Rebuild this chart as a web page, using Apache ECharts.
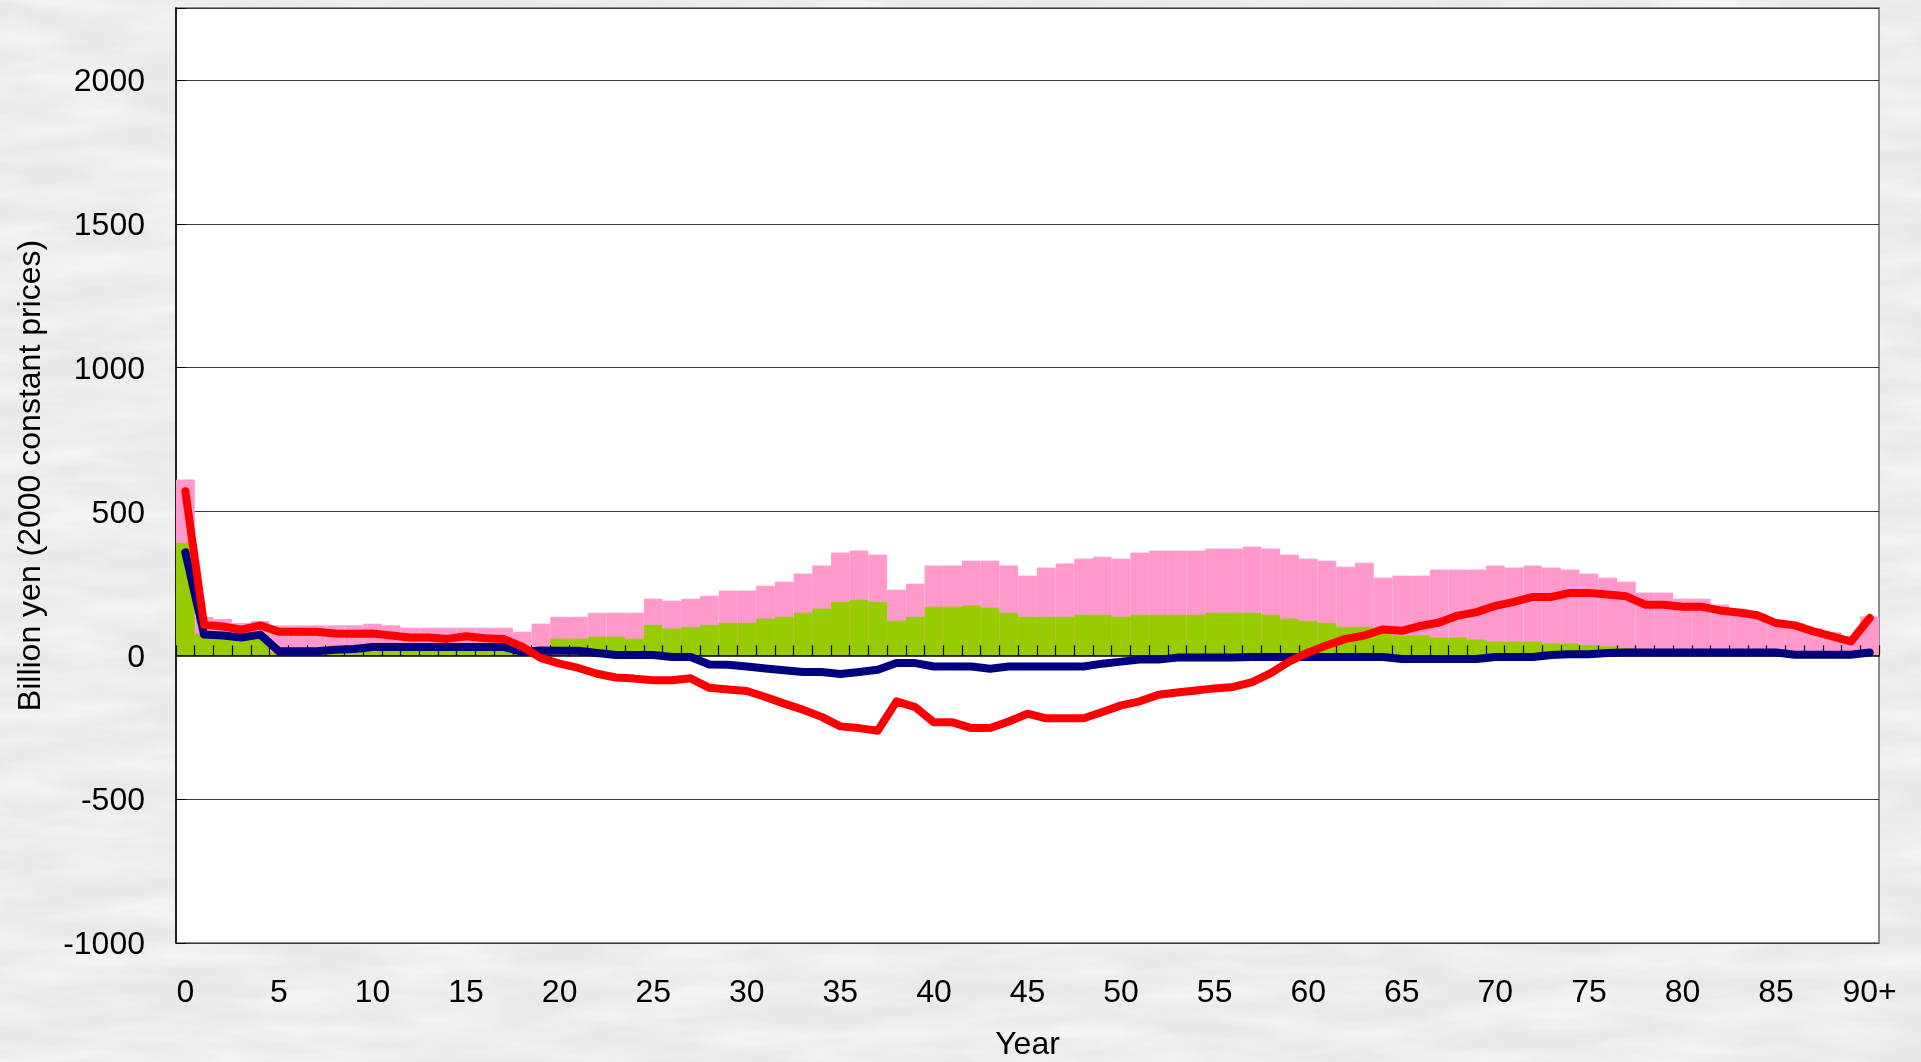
<!DOCTYPE html>
<html>
<head>
<meta charset="utf-8">
<title>Billion yen by year of age</title>
<script src="https://cdn.jsdelivr.net/npm/echarts@6/dist/echarts.min.js"></script>
<style>
  html, body { margin: 0; padding: 0; }
  body {
    width: 1921px; height: 1062px; overflow: hidden;
    background-color: #e9e9e9;
    background-repeat: no-repeat;
    background-size: 1921px 1062px;
    background-image: url("data:image/svg+xml;utf8,<svg xmlns='http://www.w3.org/2000/svg' width='1921' height='1062'><filter id='n' x='0' y='0' width='100%' height='100%'><feTurbulence type='fractalNoise' baseFrequency='0.008 0.04' numOctaves='4' seed='7'/><feColorMatrix values='0 0 0 0 1  0 0 0 0 1  0 0 0 0 1  0 0 0 1.2 -0.4'/></filter><rect width='1921' height='1062' filter='url(%23n)'/></svg>");
  }
  #chart { width: 1921px; height: 1062px; }
</style>
</head>
<body>
<div id="chart"></div>
<script>
// Age categories 0 .. 90+
const years = [];
for (let i = 0; i < 90; i++) years.push(String(i));
years.push('90+');

// Pink bars (larger of the two overlapping bar series)
const pinkBars = [
  611, 133, 126, 112, 119, 104, 104, 104, 104, 104,
  110, 104, 96, 96, 96, 96, 96, 96, 82, 110,
  134, 134, 148, 148, 148, 197, 190, 197, 207, 225,
  225, 242, 256, 284, 312, 357, 364, 350, 228, 249,
  312, 312, 329, 329, 312, 277, 305, 319, 336, 343,
  336, 357, 364, 364, 364, 371, 371, 378, 371, 350,
  336, 329, 308, 322, 270, 277, 277, 298, 298, 298,
  312, 305, 312, 305, 298, 284, 270, 256, 218, 218,
  197, 197, 176, 162, 145, 118, 112, 95, 80, 68,
  135
];

// Green bars (drawn in front of the pink bars)
const greenBars = [
  391, 75, 72, 68, 72, 10, 10, 12, 18, 20,
  25, 25, 25, 25, 25, 25, 25, 20, 10, 8,
  58, 58, 65, 65, 58, 106, 93, 99, 106, 113,
  113, 127, 134, 148, 162, 186, 193, 186, 120, 134,
  169, 169, 173, 166, 148, 134, 134, 134, 141, 141,
  134, 141, 141, 141, 141, 148, 148, 148, 141, 127,
  120, 113, 99, 99, 93, 69, 69, 62, 62, 55,
  48, 48, 48, 41, 41, 35, 31, 25, 10, 6,
  4, 3, 2, 0, 0, 0, 0, 0, 0, 0,
  0
];

// Red line
const redLine = [
  570, 106, 100, 89, 104, 82, 82, 82, 76, 75,
  76, 69, 62, 62, 57, 66, 59, 57, 30, -10,
  -29, -44, -64, -77, -81, -87, -87, -80, -113, -119,
  -124, -145, -168, -189, -214, -247, -253, -262, -160, -180,
  -233, -233, -253, -253, -230, -203, -219, -219, -219, -197,
  -174, -160, -137, -129, -122, -115, -110, -93, -62, -21,
  10, 35, 57, 69, 90, 85, 102, 114, 138, 150,
  172, 186, 203, 203, 217, 217, 211, 205, 176, 176,
  169, 169, 156, 149, 139, 112, 104, 83, 66, 48,
  130
];

// Navy line
const navyLine = [
  358, 72, 69, 62, 72, 14, 14, 14, 19, 22,
  29, 29, 29, 29, 29, 29, 29, 29, 12, 17,
  16, 16, 8, 1, 1, 1, -6, -6, -32, -33,
  -39, -46, -52, -58, -58, -65, -58, -50, -27, -27,
  -39, -39, -39, -47, -39, -39, -39, -39, -39, -29,
  -22, -15, -15, -8, -8, -8, -8, -6, -6, -6,
  -6, -6, -6, -6, -6, -13, -13, -13, -13, -13,
  -6, -6, -6, 1, 4, 4, 8, 10, 10, 10,
  10, 10, 10, 10, 10, 10, 2, 2, 2, 2,
  10
];

const yMin = -1000, yMax = 2250, yStep = 500;

const FONT = '"Liberation Sans", Arial, sans-serif';
const PINK = '#ff99cc', GREEN = '#99cc00';
const chart = echarts.init(document.getElementById('chart'), null, { renderer: 'canvas' });

chart.setOption({
  animation: false,
  backgroundColor: 'transparent',
  textStyle: { fontFamily: FONT, color: '#000' },
  grid: {
    left: 176, right: 42, top: 8, bottom: 119,
    outerBoundsMode: 'none',
    containLabel: false,
    show: true, backgroundColor: '#ffffff',
    borderColor: '#8a8a8a', borderWidth: 2
  },
  xAxis: [
    {
      // label axis along the bottom edge of the plot
      type: 'category',
      data: years,
      position: 'bottom',
      boundaryGap: true,
      axisLine: { show: false, onZero: false },
      axisTick: { show: false },
      axisLabel: {
        interval: 4, margin: 34,
        fontSize: 32, fontFamily: FONT, color: '#000'
      },
      splitLine: { show: false },
      name: 'Year',
      nameLocation: 'middle',
      nameGap: 86,
      nameTextStyle: { fontSize: 32, fontFamily: FONT, color: '#000' }
    },
    {
      // zero line with inward ticks between categories
      type: 'category',
      data: years,
      position: 'bottom',
      boundaryGap: true,
      z: 10,
      axisLine: { show: true, onZero: true, lineStyle: { color: '#000', width: 1.5 } },
      axisTick: { show: true, inside: true, interval: 0, length: 10, lineStyle: { color: '#000', width: 1.2 } },
      axisLabel: { show: false },
      splitLine: { show: false }
    }
  ],
  yAxis: {
    type: 'value',
    min: yMin, max: yMax, interval: yStep,
    axisLine: { show: true, lineStyle: { color: '#000', width: 1.5 } },
    axisTick: { show: true, inside: true, length: 10, lineStyle: { color: '#000' } },
    axisLabel: {
      margin: 31, fontSize: 32, fontFamily: FONT, color: '#000',
      verticalAlign: 'top', lineHeight: 5,
      formatter: v => (v > 2000 ? '' : String(v))
    },
    splitLine: { show: true, lineStyle: { color: '#3a3a3a', width: 1.2 } },
    name: 'Billion yen (2000 constant prices)',
    nameLocation: 'middle',
    nameGap: 129,
    nameRotate: 90,
    nameTextStyle: { fontSize: 32, fontFamily: FONT, color: '#000' }
  },
  series: [
    {
      name: 'pink', type: 'bar', xAxisIndex: 0, data: pinkBars,
      barCategoryGap: '0%', barGap: '-100%',
      itemStyle: { color: PINK, borderColor: PINK, borderWidth: 1 }, z: 2
    },
    {
      name: 'green', type: 'bar', xAxisIndex: 0, data: greenBars,
      barCategoryGap: '0%', barGap: '-100%',
      itemStyle: { color: GREEN, borderColor: GREEN, borderWidth: 1 }, z: 3
    },
    {
      name: 'navy', type: 'line', xAxisIndex: 0, data: navyLine,
      symbol: 'none', lineStyle: { color: '#000080', width: 8, cap: 'round', join: 'round' }, z: 11
    },
    {
      name: 'red', type: 'line', xAxisIndex: 0, data: redLine,
      symbol: 'none', lineStyle: { color: '#ff0000', width: 8, cap: 'round', join: 'round' }, z: 12
    }
  ]
});
</script>
</body>
</html>
